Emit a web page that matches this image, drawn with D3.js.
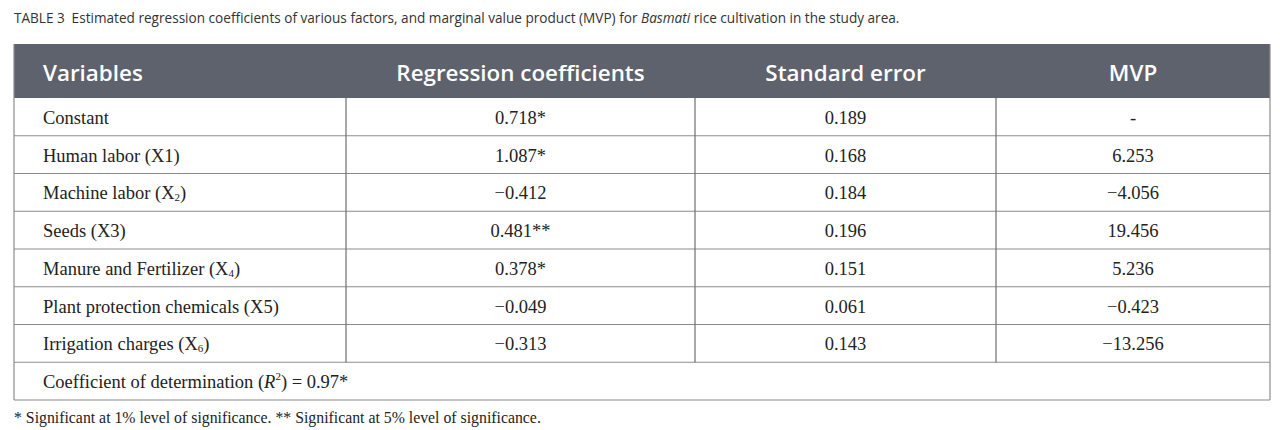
<!DOCTYPE html>
<meta charset="utf-8">
<head>
    <script type="text/javascript" src="https://cdn.jsdelivr.net/npm/d3@7/dist/d3.min.js"></script>
    <style>
        body { margin: 0; background: #fff; }
        .caption { font-family: "Open Sans", sans-serif; font-size: 13.6px; fill: #333; }
        .head { font-family: "Open Sans", sans-serif; font-size: 22.4px; font-weight: 600; fill: #fff; }
        .cell { font-family: "Liberation Serif", serif; font-size: 18.5px; fill: #222; }
        .note { font-family: "Liberation Serif", serif; font-size: 15.8px; fill: #222; }
    </style>
</head>
<body>
<div id="table"></div>
</body>

<script>
    // table contents
    var headers = ["Variables", "Regression coefficients", "Standard error", "MVP"];
    var variables = ["Constant", "Human labor (X1)", "Machine labor (X_2)", "Seeds (X3)",
        "Manure and Fertilizer (X_4)", "Plant protection chemicals (X5)", "Irrigation charges (X_6)"];
    var coefficients = ["0.718*", "1.087*", "\u22120.412", "0.481**", "0.378*", "\u22120.049", "\u22120.313"];
    var stdErrors = ["0.189", "0.168", "0.184", "0.196", "0.151", "0.061", "0.143"];
    var mvp = ["-", "6.253", "\u22124.056", "19.456", "5.236", "\u22120.423", "\u221213.256"];
    var r2 = "0.97*";

    // layout
    var width = 1280, height = 430;
    var colEdges = [14, 346, 695, 996, 1270];
    var headTop = 44, headBottom = 98, tableBottom = 400;

    var svg = d3.select("#table").append("svg")
        .attr("width", width)
        .attr("height", height);

    // caption
    var cap = svg.append("text").attr("class", "caption")
        .attr("x", 14).attr("y", 23);
    cap.append("tspan").text("TABLE 3\u2002Estimated regression coefficients of various factors, and marginal value product (MVP) for ");
    cap.append("tspan").style("font-style", "italic").text("Basmati");
    cap.append("tspan").text(" rice cultivation in the study area.");

    // row scale: the data rows plus the R² row
    var rowKeys = d3.range(variables.length + 1);
    var y = d3.scaleBand().domain(rowKeys).range([headBottom, tableBottom]);
    var x = d3.scaleOrdinal().domain(headers).range(colEdges.slice(0, 4));
    var colW = d3.scaleOrdinal().domain(headers).range(d3.pairs(colEdges).map(p => p[1] - p[0]));

    // header band
    svg.append("rect")
        .attr("x", colEdges[0]).attr("y", headTop)
        .attr("width", colEdges[4] - colEdges[0])
        .attr("height", headBottom - headTop)
        .attr("fill", "#5e626d");

    svg.selectAll("text.head").data(headers).enter().append("text")
        .attr("class", "head")
        .attr("x", (d, i) => i === 0 ? x(d) + 29 : x(d) + colW(d) / 2)
        .attr("y", (headTop + headBottom) / 2 + 1)
        .attr("dominant-baseline", "central")
        .attr("text-anchor", (d, i) => i === 0 ? "start" : "middle")
        .text(d => d);

    // grid lines
    var grid = svg.append("g").attr("stroke", "#8c8c8c").attr("stroke-width", 1.2);
    grid.selectAll("line.h").data(rowKeys.slice(1).concat([rowKeys.length])).enter().append("line")
        .attr("x1", colEdges[0]).attr("x2", colEdges[4])
        .attr("y1", d => d < rowKeys.length ? y(d) : tableBottom)
        .attr("y2", d => d < rowKeys.length ? y(d) : tableBottom);
    grid.selectAll("line.v").data([1, 2, 3]).enter().append("line")
        .attr("stroke", "#6f6f6f")
        .attr("x1", d => colEdges[d]).attr("x2", d => colEdges[d])
        .attr("y1", headBottom).attr("y2", y(variables.length));
    grid.selectAll("line.side").data([0, 4]).enter().append("line")
        .attr("x1", d => colEdges[d]).attr("x2", d => colEdges[d])
        .attr("y1", headTop).attr("y2", tableBottom);

    // label with "_n" written as a subscript
    function subText(sel, str) {
        var parts = str.split(/_(\d)/);
        parts.forEach(function (p, i) {
            if (i % 2 === 1) {
                sel.append("tspan").attr("font-size", "11px").attr("dy", 4).text(p);
            } else if (p) {
                sel.append("tspan").attr("dy", i > 0 ? -4 : 0).text(p);
            }
        });
    }

    var rows = svg.selectAll("g.row").data(variables).enter().append("g")
        .attr("class", "row")
        .attr("transform", (d, i) => "translate(0," + (y(i) + y.bandwidth() / 2 + 1) + ")");

    rows.append("text").attr("class", "cell")
        .attr("x", colEdges[0] + 29)
        .attr("dominant-baseline", "central")
        .each(function (d) { subText(d3.select(this), d); });

    [coefficients, stdErrors, mvp].forEach(function (col, c) {
        var h = headers[c + 1];
        rows.append("text").attr("class", "cell")
            .attr("x", x(h) + colW(h) / 2)
            .attr("text-anchor", "middle")
            .attr("dominant-baseline", "central")
            .text((d, i) => col[i]);
    });

    // R² row
    var rt = svg.append("text").attr("class", "cell")
        .attr("x", colEdges[0] + 29)
        .attr("y", y(variables.length) + y.bandwidth() / 2 + 1)
        .attr("dominant-baseline", "central");
    rt.append("tspan").text("Coefficient of determination (");
    rt.append("tspan").style("font-style", "italic").text("R");
    rt.append("tspan").attr("font-size", "11px").attr("dy", -6).text("2");
    rt.append("tspan").attr("dy", 6).text(") = " + r2);

    // footnote
    svg.append("text").attr("class", "note")
        .attr("x", 14).attr("y", 423)
        .text("* Significant at 1% level of significance. ** Significant at 5% level of significance.");
</script>
</html>
